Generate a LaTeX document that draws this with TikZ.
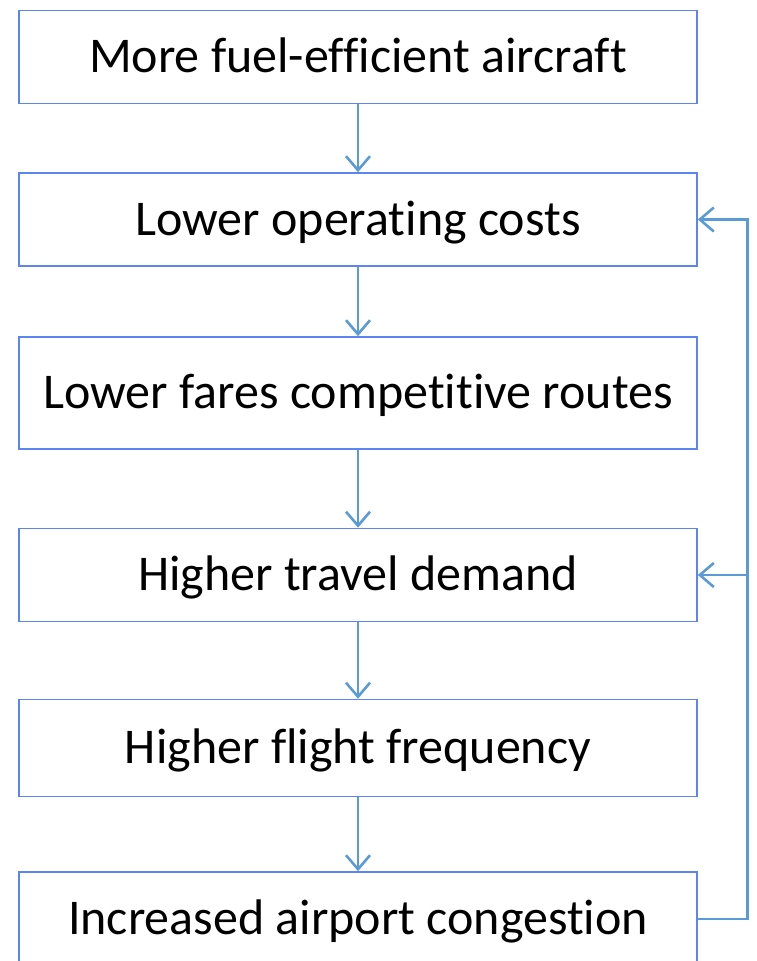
\documentclass[tikz,border=0pt]{standalone}
\usepackage{fontspec}
\setmainfont{Carlito}[Ligatures=NoCommon]
\usepackage{xcolor}
\usepackage{tikz}
\usetikzlibrary{arrows.meta}
\usetikzlibrary{positioning}

\definecolor{boxblue}{HTML}{5C85F2}
\definecolor{lnblue}{HTML}{5B9BD5}

\begin{document}
\begin{tikzpicture}[
  x=1pt, y=-1pt,
  box/.style={draw=boxblue, line width=1.6pt, minimum width=678pt, minimum height=93pt,
    inner sep=0pt, text height=41pt, text depth=10pt, font=\fontsize{50}{60}\selectfont},
  arr/.style={draw=lnblue, line width=2.6pt, -{Straight Barb[length=14pt, width=24pt, line width=2.6pt]}},
  carr/.style={arr}
]
\useasboundingbox (0,0) rectangle (757,961);

%% Boxes
\node[box] (n1) at (358, 57)    {More fuel-efficient aircraft};
\node[box] (n2) at (358, 219.5) {Lower operating costs};
\node[box, minimum height=112pt] (n3) at (358, 393) {Lower fares competitive routes};
\node[box] (n4) at (358, 575)   {Higher travel demand};
\node[box, minimum height=97pt] (n5) at (358, 748) {Higher flight frequency};
\node[box, minimum height=94pt] (n6) at (358, 919) {Increased airport congestion};

%% Chain
\draw[arr] (n1.south)--(n2.north);
\draw[arr] (n2.south)--(n3.north);
\draw[arr] (n3.south)--(n4.north);
\draw[arr] (n4.south)--(n5.north);
\draw[arr] (n5.south)--(n6.north);

%% Feedback loop
\coordinate (fb) at (747.5, 919);
\draw[carr] (n6.east)--(fb) |- (n2.east);
\draw[carr] (fb |- n4.east)--(n4.east);

\end{tikzpicture}
\end{document}
